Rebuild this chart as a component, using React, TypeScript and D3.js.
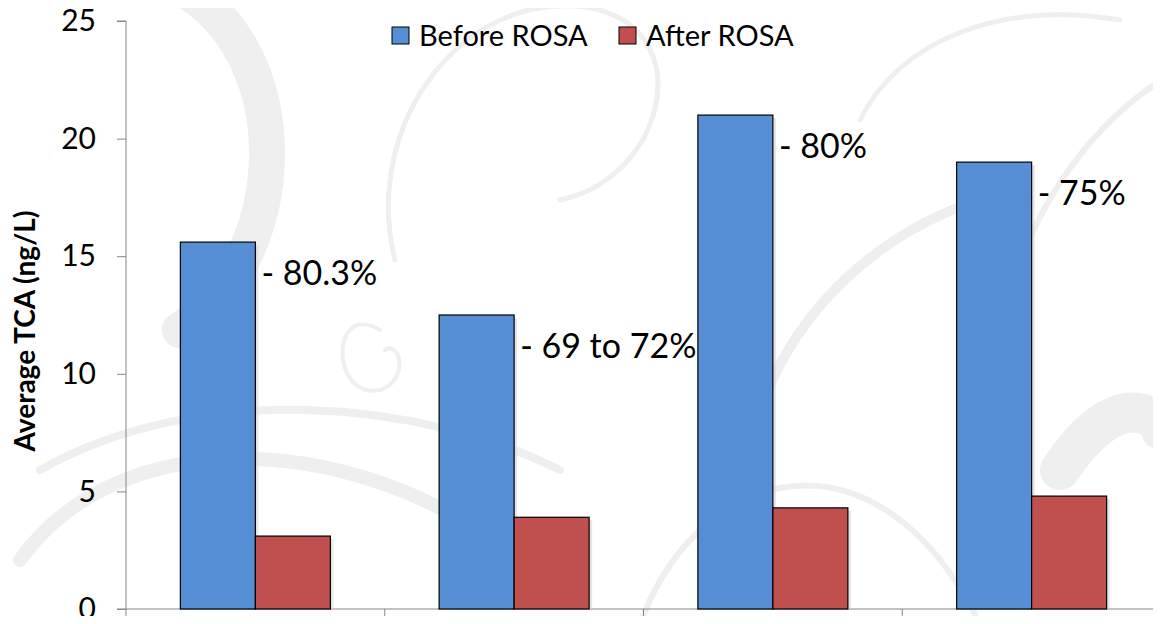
import React, { useRef, useEffect } from "react";
import * as d3 from "d3";

const categories = ["Site 1", "Site 2", "Site 3", "Site 4"];
const seriesNames = ["Before ROSA", "After ROSA"];
const beforeValues = [15.6, 12.5, 21.0, 19.0];
const afterValues = [3.1, 3.9, 4.3, 4.8];
const reductionLabels = ["- 80.3%", "- 69 to 72%", "- 80%", "- 75%"];
const yTicks = [0, 5, 10, 15, 20, 25];
const colors = ["#558ed5", "#c0504d"];

const W = 1161, H = 624;
const FONT = "Lato, 'Open Sans', sans-serif";

export default function App() {
    const svgRef = useRef<SVGSVGElement>(null);

    useEffect(() => {
        const root = d3.select(svgRef.current);
        root.selectAll("*").remove();

        const margin = { top: 21, right: 0, bottom: 15, left: 126 };
        const plotW = W - margin.left - margin.right;
        const plotH = H - margin.top - margin.bottom;

        // faint decorative watermark behind the chart
        const bg = root.append("g").attr("fill", "none").attr("stroke", "#efefef");
        const swirls = [
            { d: "M185,-10 C300,60 290,260 180,330", w: 36 },
            { d: "M20,560 C120,420 360,430 520,560", w: 14 },
            { d: "M40,470 C200,380 420,400 560,470", w: 8 },
            { d: "M395,260 C360,120 470,-20 600,10 C700,40 660,180 560,200", w: 5 },
            { d: "M380,330 C330,300 330,400 380,390 C410,380 400,340 385,350", w: 4 },
            { d: "M760,600 C700,420 820,250 980,200", w: 10 },
            { d: "M1161,80 C1040,160 960,330 1010,520", w: 6 },
            { d: "M1060,470 C1120,380 1161,420 1161,430", w: 40 },
            { d: "M640,624 C700,460 880,420 980,624", w: 6 },
            { d: "M860,120 C900,40 1000,0 1120,20", w: 5 }
        ];
        swirls.forEach(s => bg.append("path").attr("d", s.d).attr("stroke-width", s.w).attr("stroke-linecap", "round"));

        const svg = root.append("g")
            .attr("transform", "translate(" + margin.left + "," + margin.top + ")");

        const x0 = d3.scaleBand().domain(categories).range([0, plotW]).padding(0);
        const x1 = d3.scaleBand().domain(seriesNames).range([0, x0.bandwidth()])
            .paddingInner(0).paddingOuter(0.725);
        const y = d3.scaleLinear().domain([0, 25]).range([plotH, 0]);

        // y axis
        const yAxis = svg.append("g")
            .call(d3.axisLeft(y).tickValues(yTicks).tickSize(9).tickPadding(21).tickFormat(d3.format("d")));
        yAxis.select(".domain").attr("stroke", "#868686").attr("d", "M-9,0H0V" + plotH + "H-9");
        yAxis.selectAll(".tick line").attr("stroke", "#868686");
        yAxis.selectAll(".tick text")
            .attr("font-family", FONT).attr("font-size", 30).attr("fill", "#000");

        // x axis
        const xAxis = svg.append("g").attr("transform", "translate(0," + plotH + ")");
        xAxis.append("line").attr("x1", 0).attr("x2", plotW).attr("stroke", "#868686");
        const xb = [0, ...categories.map(c => (x0(c) as number) + x0.bandwidth())];
        xAxis.selectAll("line.cat").data(xb).join("line")
            .attr("class", "cat")
            .attr("x1", d => d).attr("x2", d => d)
            .attr("y1", 0).attr("y2", 9)
            .attr("stroke", "#868686");

        const series = [beforeValues, afterValues];
        const groups = svg.selectAll("g.grp").data(categories).join("g")
            .attr("class", "grp")
            .attr("transform", d => "translate(" + x0(d) + ",0)");

        seriesNames.forEach((s, si) => {
            groups.append("rect")
                .attr("x", (x1(s) as number) + 3)
                .attr("y", (_d, i) => y(series[si][i]) + 3)
                .attr("width", x1.bandwidth())
                .attr("height", (_d, i) => plotH - y(series[si][i]) - 3)
                .attr("fill", "#d4d4d4").attr("opacity", 0.6);
        });
        seriesNames.forEach((s, si) => {
            groups.append("rect")
                .attr("x", x1(s) as number)
                .attr("y", (_d, i) => y(series[si][i]))
                .attr("width", x1.bandwidth())
                .attr("height", (_d, i) => plotH - y(series[si][i]))
                .attr("fill", colors[si])
                .attr("stroke", "#000").attr("stroke-width", 1.2);
        });

        groups.append("text")
            .attr("x", (x1(seriesNames[0]) as number) + x1.bandwidth() + 6)
            .attr("y", (_d, i) => y(beforeValues[i]) + 43)
            .attr("font-family", FONT).attr("font-size", 34)
            .attr("fill", "#000")
            .text((_d, i) => reductionLabels[i]);

        // y axis title
        root.append("text")
            .attr("transform", "translate(35," + (margin.top + plotH / 2 + 16) + ") rotate(-90)")
            .attr("text-anchor", "middle")
            .attr("font-family", FONT).attr("font-size", 28).attr("font-weight", "bold")
            .attr("fill", "#000")
            .text("Average TCA (ng/L)");

        // legend
        const legendX = [392, 619];
        const legend = root.append("g");
        seriesNames.forEach((s, i) => {
            legend.append("rect")
                .attr("x", legendX[i]).attr("y", 27).attr("width", 17).attr("height", 17)
                .attr("fill", colors[i]).attr("stroke", "#000").attr("stroke-width", 1);
            legend.append("text")
                .attr("x", legendX[i] + 27).attr("y", 46)
                .attr("font-family", FONT).attr("font-size", 29)
                .attr("fill", "#000")
                .text(s);
        });
    }, []);

    return (
        <div style={{ margin: -8 }}>
            <svg ref={svgRef} width={W} height={H} style={{ display: "block", background: "#fff" }} />
        </div>
    );
}
